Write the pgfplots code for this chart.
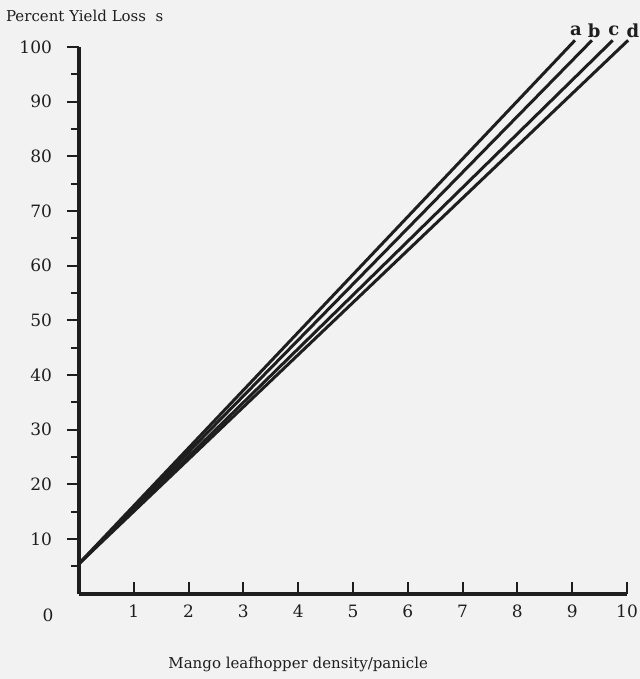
\documentclass[border=0pt]{standalone}
\usepackage{fontspec}
\setmainfont{DejaVu Serif}
\usepackage{pgfplots}
\pgfplotsset{compat=1.18}
\definecolor{ink}{RGB}{30,30,30}
\definecolor{paper}{RGB}{242,242,242}
\begin{document}
\begin{tikzpicture}
\fill[paper] (-39.5pt,-42.65pt) rectangle (280.5pt,296.85pt);
\useasboundingbox (-39.5pt,-42.65pt) rectangle (280.5pt,296.85pt);
\begin{axis}[
  at={(0,0)}, anchor=south west,
  scale only axis, width=274pt, height=273.4pt,
  xmin=0, xmax=10, ymin=0, ymax=100,
  axis lines=left, axis line style={-, line width=2pt, ink},
  clip=false,
  xtick={1,...,10}, ytick={10,20,...,100},
  minor ytick={5,15,...,95},
  xtick align=inside, ytick align=outside,
  major tick length=6pt, minor tick length=4pt,
  every tick/.style={ink, line width=1pt},
  /pgf/number format/assume math mode=true,
  tick label style={font=\fontsize{8.5}{10}\selectfont, text=ink},
  yticklabel style={xshift=-4pt},
  xticklabel style={yshift=-2pt},
]
\addplot[ink, line width=1.5pt] coordinates {(0,5.5) (9.05,101.2)};
\addplot[ink, line width=1.5pt] coordinates {(0,5.5) (9.36,101.2)};
\addplot[ink, line width=1.5pt] coordinates {(0,5.5) (9.74,101.2)};
\addplot[ink, line width=1.5pt] coordinates {(0,5.5) (10.02,101.2)};
\node[text=ink, font=\bfseries\fontsize{9}{10}\selectfont] at (axis cs:9.07,103) {a};
\node[text=ink, font=\bfseries\fontsize{9}{10}\selectfont] at (axis cs:9.40,103) {b};
\node[text=ink, font=\bfseries\fontsize{9}{10}\selectfont] at (axis cs:9.76,103) {c};
\node[text=ink, font=\bfseries\fontsize{9}{10}\selectfont] at (axis cs:10.11,103) {d};
\node[text=ink, anchor=base west, font=\fontsize{7.5}{9}\selectfont] at ([xshift=-40pt, yshift=12.5pt]axis cs:0,100) {Percent Yield Loss\ \ s};
\node[text=ink, font=\fontsize{8.5}{10}\selectfont] at ([xshift=-15.5pt, yshift=-11pt]axis cs:0,0) {0};
\node[text=ink, font=\fontsize{7.5}{9}\selectfont] at ([yshift=-35.5pt]axis cs:4,0) {Mango leafhopper density/panicle};
\end{axis}
\end{tikzpicture}
\end{document}
